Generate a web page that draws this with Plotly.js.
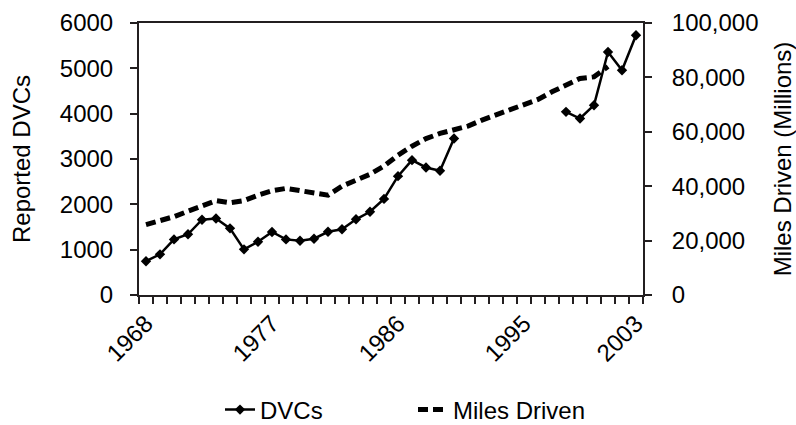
<!DOCTYPE html>
<html>
<head>
<meta charset="utf-8">
<script src="https://cdn.plot.ly/plotly-3.0.1.min.js"></script>
<style>html,body{margin:0;padding:0;background:#fff}#chart{width:796px;height:425px}</style>
</head>
<body>
<div id="chart"></div>
<script>
const years = [];
for (let y = 1968; y <= 2003; y++) years.push(y);

const dvcs = [745, 897, 1227, 1340, 1660, 1688, 1470, 1007, 1175, 1390, 1227, 1197, 1241, 1395, 1450, 1670, 1836, 2120, 2622, 2975, 2813, 2740, 3452,
  null, null, null, null, null, null, null,
  4040, 3893, 4187, 5361, 4958, 5729];

const miles = [25900, 27300, 28800, 30800, 32900, 34700, 33900, 34700, 36700, 38300, 39200, 38400, 37500, 36700, 40000, 42200, 44400, 47400, 51400, 54700, 57500, 59400, 60600, 62100, 64300, 66100, 68200, 70100, 71900, 74700, 77100, 79600, 80200, 84000];
const milesYears = years.slice(0, miles.length);

const tickYears = [1968, 1977, 1986, 1995, 2003];
const leftTicks = [0, 1000, 2000, 3000, 4000, 5000, 6000];
const rightTicks = [0, 20000, 40000, 60000, 80000, 100000];
const rightTickText = ['0', '20,000', '40,000', '60,000', '80,000', '100,000'];

const FONT = 'Liberation Sans, Arial, sans-serif';
const FS = 24;
const AX = '#231f20';

const traces = [
  {
    x: years, y: dvcs, name: 'DVCs', type: 'scatter', mode: 'lines+markers',
    line: {color: '#000', width: 2.5},
    marker: {symbol: 'diamond', size: 8, color: '#000'},
    connectgaps: false
  },
  {
    x: milesYears, y: miles, name: 'Miles Driven', type: 'scatter', mode: 'lines',
    yaxis: 'y2',
    line: {color: '#000', width: 5, dash: '10px,5px'}
  }
];

const layout = {
  width: 796, height: 425,
  margin: {l: 139, r: 153, t: 23, b: 130},
  paper_bgcolor: '#fff', plot_bgcolor: '#fff',
  font: {family: FONT, size: FS, color: '#000'},
  showlegend: true,
  legend: {orientation: 'h', xref: 'container', yref: 'container',
    x: 220 / 796, xanchor: 'left', y: 1 - 410 / 425, yanchor: 'middle',
    font: {family: FONT, size: FS, color: '#000'}, entrywidth: 148, entrywidthmode: 'pixels',
    traceorder: 'normal', bgcolor: 'rgba(0,0,0,0)'},
  xaxis: {
    range: [1967.5, 2003.5], showgrid: false, zeroline: false,
    showline: true, linecolor: AX, linewidth: 2, mirror: true,
    tickvals: tickYears, ticktext: tickYears.map(String), tickangle: -45,
    ticks: '', ticklen: 0, ticklabelstandoff: 3,
    minor: {tick0: 1967.5, dtick: 1, ticks: 'outside', ticklen: 7, tickcolor: AX, tickwidth: 2, showgrid: false},
    tickfont: {family: FONT, size: FS}
  },
  yaxis: {
    range: [0, 6000], tickvals: leftTicks, showgrid: false, zeroline: false,
    showline: true, linecolor: AX, linewidth: 2,
    ticks: 'outside', ticklen: 7, tickcolor: AX, tickwidth: 2, ticklabelstandoff: 12,
    tickfont: {family: FONT, size: FS},
    title: {text: 'Reported DVCs', font: {family: FONT, size: FS}, standoff: 22}
  },
  yaxis2: {
    range: [0, 100000], overlaying: 'y', side: 'right', showgrid: false, zeroline: false,
    showline: true, linecolor: AX, linewidth: 2,
    tickvals: rightTicks, ticktext: rightTickText,
    ticks: 'outside', ticklen: 7, tickcolor: AX, tickwidth: 2, ticklabelstandoff: 15,
    tickfont: {family: FONT, size: FS},
    title: {text: 'Miles Driven (Millions)', font: {family: FONT, size: FS}, standoff: 20}
  }
};

Plotly.newPlot('chart', traces, layout, {displayModeBar: false, staticPlot: true});
</script>
</body>
</html>
